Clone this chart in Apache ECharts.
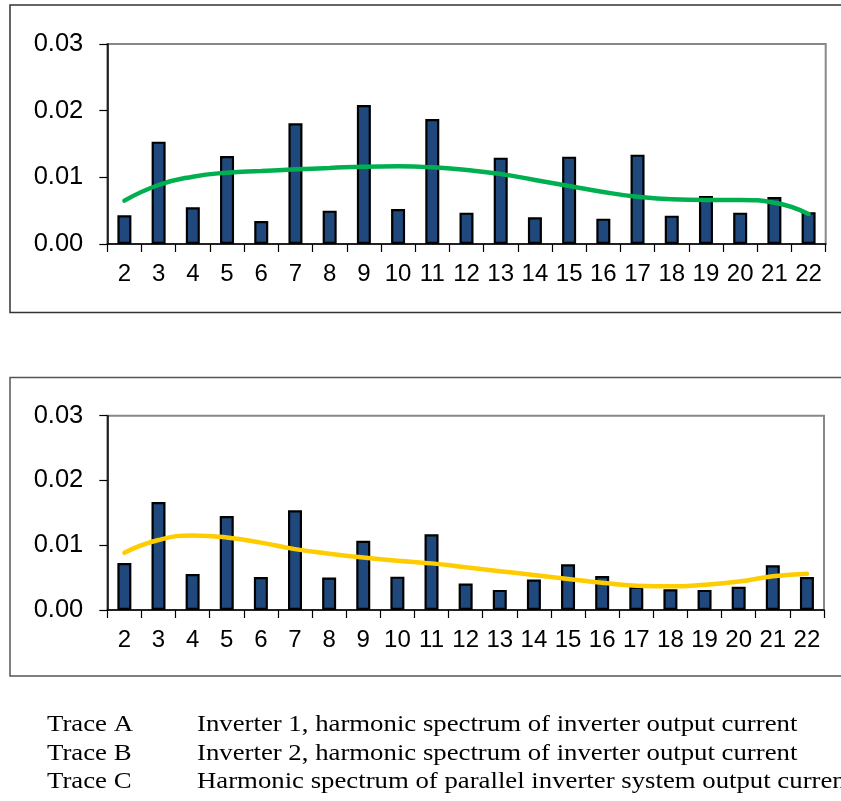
<!DOCTYPE html>
<html>
<head>
<meta charset="utf-8">
<script src="https://cdn.jsdelivr.net/npm/echarts@6/dist/echarts.min.js"></script>
<style>
html,body{margin:0;padding:0;background:#fff;}
#c{width:841px;height:801px;}
</style>
</head>
<body>
<div id="c"></div>
<script>
const categories = ['2','3','4','5','6','7','8','9','10','11','12','13','14','15','16','17','18','19','20','21','22'];
const barsTop = [0.0043,0.01535,0.0055,0.0132,0.00345,0.0181,0.005,0.02085,0.00525,0.01875,0.0047,0.01295,0.004,0.0131,0.0038,0.0134,0.00425,0.0072,0.0047,0.00705,0.00475];
const trendTop = [0.0065,0.00885,0.0101,0.0107,0.01095,0.0112,0.0114,0.0116,0.01165,0.0115,0.0111,0.0105,0.0096,0.0087,0.0078,0.0071,0.0067,0.0066,0.0066,0.0062,0.0045];
const barsBottom = [0.00725,0.01667,0.00556,0.0145,0.0051,0.0154,0.005,0.0107,0.00515,0.0117,0.0041,0.0031,0.0047,0.00705,0.00525,0.0036,0.0032,0.0031,0.0036,0.0069,0.0051];
const trendBottom = [0.00885,0.0108,0.0115,0.0112,0.0104,0.0094,0.0087,0.0081,0.0076,0.0072,0.0066,0.006,0.0054,0.0048,0.0042,0.00375,0.00365,0.0039,0.0044,0.0052,0.0056];
const yTicks = {min: 0, max: 0.03, interval: 0.01};
const traceLabels = ['Trace A','Trace B','Trace C'];
const traceTexts = [
  'Inverter 1, harmonic spectrum of inverter output current',
  'Inverter 2, harmonic spectrum of inverter output current',
  'Harmonic spectrum of parallel inverter system output current'
];

const chart = echarts.init(document.getElementById('c'), null, {renderer:'canvas'});
const fam = 'Liberation Sans, Arial, sans-serif';

function xAxis(gi){
  return {
    type:'category', gridIndex:gi, data:categories, boundaryGap:true,
    axisLine:{show:true, lineStyle:{color:'#000', width:1.5}},
    axisTick:{show:true, length:8, lineStyle:{color:'#000', width:1.2}, interval:0},
    axisLabel:{interval:0, margin:18, fontFamily:fam, fontSize:24, color:'#000'},
    splitLine:{show:false}
  };
}
function yAxis(gi){
  return {
    type:'value', gridIndex:gi, min:yTicks.min, max:yTicks.max, interval:yTicks.interval,
    axisLine:{show:true, lineStyle:{color:'#000', width:1.5}},
    axisTick:{show:true, length:8, lineStyle:{color:'#000', width:1.2}},
    axisLabel:{margin:24, formatter:v=>v.toFixed(2), fontFamily:fam, fontSize:25.5, color:'#000'},
    splitLine:{show:false}
  };
}
function barSeries(gi, data){
  return {type:'bar', xAxisIndex:gi, yAxisIndex:gi, data:data, barWidth:14,
    itemStyle:{color:'#1F497D', borderColor:'#000', borderWidth:2.2}, z:2, animation:false};
}
function lineSeries(gi, data, color){
  return {type:'line', xAxisIndex:gi, yAxisIndex:gi, data:data, smooth:0.5, showSymbol:false, symbol:'none',
    lineStyle:{color:color, width:4.5, cap:'round'}, z:3, animation:false};
}

const graphics = [
  {type:'rect', shape:{x:10, y:5, width:900, height:307.5}, style:{fill:'none', stroke:'#333', lineWidth:1.5}, z:-1},
  {type:'rect', shape:{x:10, y:377.5, width:900, height:298.5}, style:{fill:'none', stroke:'#555', lineWidth:1.5}, z:-1}
];
const lineYs = [725, 753.5, 782];
const legendFont = '24px "Liberation Serif", "Times New Roman", serif';
traceLabels.forEach((t,i)=>{
  graphics.push({type:'text', x:47, y:lineYs[i], scaleX:1.115, style:{text:t, font:legendFont, fill:'#000', verticalAlign:'middle'}});
  graphics.push({type:'text', x:197, y:lineYs[i], scaleX:1.115, style:{text:traceTexts[i], font:legendFont, fill:'#000', verticalAlign:'middle'}});
});

chart.setOption({
  animation:false,
  backgroundColor:'#fff',
  grid:[
    {left:107.3, top:44, width:718.4, height:200, show:true, borderColor:'#888', borderWidth:2, backgroundColor:'transparent'},
    {left:107.3, top:415.7, width:716.7, height:194.3, show:true, borderColor:'#888', borderWidth:2, backgroundColor:'transparent'}
  ],
  xAxis:[xAxis(0), xAxis(1)],
  yAxis:[yAxis(0), yAxis(1)],
  series:[
    barSeries(0, barsTop), lineSeries(0, trendTop, '#00B050'),
    barSeries(1, barsBottom), lineSeries(1, trendBottom, '#FFCC00')
  ],
  graphic:graphics
});
</script>
</body>
</html>
